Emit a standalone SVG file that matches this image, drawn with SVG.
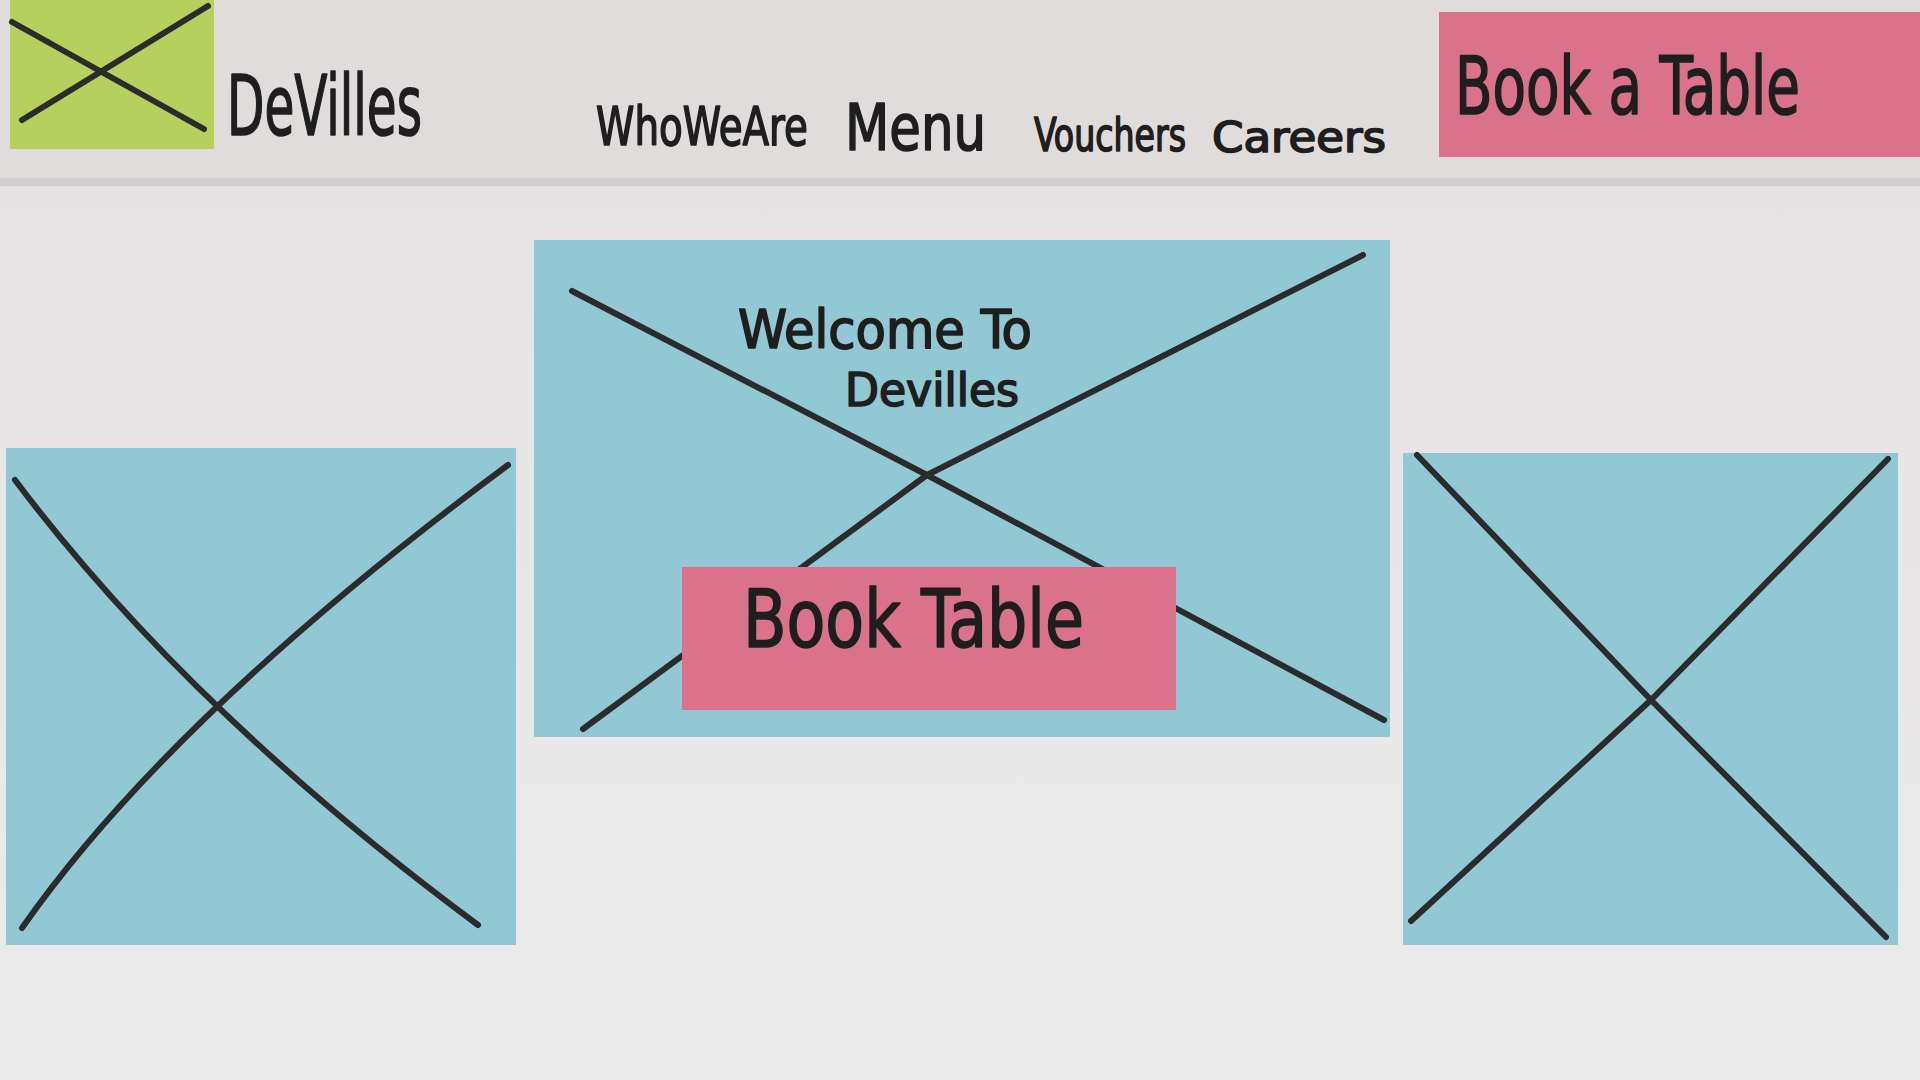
<svg xmlns="http://www.w3.org/2000/svg" width="1920" height="1080" viewBox="0 0 1920 1080">
<defs>
<linearGradient id="bg" x1="0" y1="0" x2="0" y2="1">
<stop offset="0" stop-color="#e4e1e1"/>
<stop offset="1" stop-color="#ecebec"/>
</linearGradient>
<style>
.blue{fill:#92c7d4}
.pink{fill:#d9728a}
.green{fill:#b6d05e}
.x{stroke:#2b2b2b;stroke-width:6;stroke-linecap:round;stroke-linejoin:round;fill:none}
.hand{font-family:"DejaVu Sans Condensed","DejaVu Sans",sans-serif;fill:#1e1e1e;stroke:#1e1e1e;stroke-width:1.6;stroke-linejoin:round}
</style>
</defs>
<rect x="0" y="0" width="1920" height="1080" fill="url(#bg)"/>
<rect x="0" y="0" width="1920" height="180" fill="#e1dcdc"/>
<rect x="0" y="178" width="1920" height="8" fill="#d4cece"/>

<g id="logo">
<rect class="green" x="10" y="0" width="204" height="149"/>
<path class="x" d="M12 22 L204 129 M22 120 L208 6"/>
</g>
<g id="brand">
<text class="hand" x="227" y="135" font-size="84" textLength="195" lengthAdjust="spacingAndGlyphs">DeVilles</text>
</g>
<g id="nav-who">
<text class="hand" x="808" y="145" font-size="54" text-anchor="end" textLength="212" lengthAdjust="spacingAndGlyphs">WhoWeAre</text>
</g>
<g id="nav-menu">
<text class="hand" x="845" y="150" font-size="64" textLength="141" lengthAdjust="spacingAndGlyphs">Menu</text>
</g>
<g id="nav-vouchers">
<text class="hand" x="1110" y="151" font-size="46" text-anchor="middle" textLength="152" lengthAdjust="spacingAndGlyphs">Vouchers</text>
</g>
<g id="nav-careers">
<text class="hand" x="1386" y="152" font-size="43" text-anchor="end" textLength="174" lengthAdjust="spacingAndGlyphs">Careers</text>
</g>
<g id="header-book">
<rect class="pink" x="1439" y="12" width="481" height="145"/>
<text class="hand" x="1455" y="114" font-size="80" textLength="345" lengthAdjust="spacingAndGlyphs">Book a Table</text>
</g>

<g id="hero">
<rect class="blue" x="534" y="240" width="856" height="497"/>
<path class="x" d="M572 291 L927 475 L1384 720 M583 729 L927 475 L1363 255"/>
<text class="hand" x="738" y="348" font-size="54" textLength="294" lengthAdjust="spacingAndGlyphs">Welcome To</text>
<text class="hand" x="845" y="406" font-size="46" textLength="174" lengthAdjust="spacingAndGlyphs">Devilles</text>
</g>
<g id="hero-book">
<rect class="pink" x="682" y="567" width="494" height="143"/>
<text class="hand" x="743" y="647" font-size="80" textLength="341" lengthAdjust="spacingAndGlyphs">Book  Table</text>
</g>

<g id="image-left">
<rect class="blue" x="6" y="448" width="510" height="497"/>
<path class="x" d="M15 480 Q188 710 478 925 M22 928 Q170 716 508 465"/>
</g>
<g id="image-right">
<rect class="blue" x="1403" y="453" width="495" height="492"/>
<path class="x" d="M1417 455 L1651 700 L1886 937 M1411 921 L1651 700 L1888 459"/>
</g>
</svg>
